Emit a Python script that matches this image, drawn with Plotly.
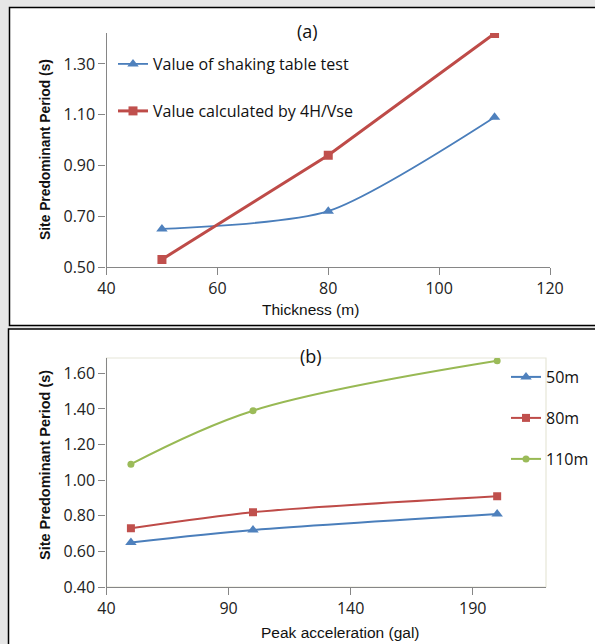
import plotly.graph_objects as go

# ---------------- data ----------------
thickness = [50, 80, 110]
shaking_table = [0.65, 0.72, 1.09]
calc_4h_vse = [0.53, 0.94, 1.42]

peak_acc = [50, 100, 200]
p50m = [0.65, 0.72, 0.81]
p80m = [0.73, 0.82, 0.91]
p110m = [1.09, 1.39, 1.67]

a_xticks = [40, 60, 80, 100, 120]
a_yticks = [0.50, 0.70, 0.90, 1.10, 1.30]
b_xticks = [40, 90, 140, 190]
b_yticks = [0.40, 0.60, 0.80, 1.00, 1.20, 1.40, 1.60]

# ---------------- layout helpers ----------------
W, H = 595, 644
def px(x):
    return x / W
def py(y):
    return 1 - y / H

BLUE, BLUE_M = "#4A7EBB", "#4F81BD"
RED, RED_M = "#BE4B48", "#C0504D"
GREEN, GREEN_M = "#98B954", "#9BBB59"
AX = "#868686"
TICKFONT = dict(family="Open Sans", size=16, color="#222222")
LEGFONT = dict(family="Open Sans", size=16, color="#111111")

fig = go.Figure()

# panel (a)
fig.add_trace(go.Scatter(x=thickness, y=shaking_table, name="Value of shaking table test",
                         mode="lines+markers",
                         line=dict(color=BLUE, width=1.8, shape="spline", smoothing=0.7),
                         marker=dict(symbol="triangle-up", size=10, color=BLUE_M),
                         xaxis="x", yaxis="y", legend="legend"))
fig.add_trace(go.Scatter(x=thickness, y=calc_4h_vse, name="Value calculated by 4H/Vse",
                         mode="lines+markers", line=dict(color=RED, width=3),
                         marker=dict(symbol="square", size=9, color=RED_M),
                         xaxis="x", yaxis="y", legend="legend2"))

# panel (b)
fig.add_trace(go.Scatter(x=peak_acc, y=p50m, name="50m", mode="lines+markers",
                         line=dict(color=BLUE, width=2, shape="spline", smoothing=0.8),
                         marker=dict(symbol="triangle-up", size=10, color=BLUE_M),
                         xaxis="x2", yaxis="y2", legend="legend3"))
fig.add_trace(go.Scatter(x=peak_acc, y=p80m, name="80m", mode="lines+markers",
                         line=dict(color=RED, width=2, shape="spline", smoothing=0.8),
                         marker=dict(symbol="square", size=8, color=RED_M),
                         xaxis="x2", yaxis="y2", legend="legend4"))
fig.add_trace(go.Scatter(x=peak_acc, y=p110m, name="110m", mode="lines+markers",
                         line=dict(color=GREEN, width=2, shape="spline", smoothing=1),
                         marker=dict(symbol="circle", size=7, color=GREEN_M),
                         xaxis="x2", yaxis="y2", legend="legend5"))

axis_common = dict(showgrid=False, zeroline=False, showline=True, linecolor=AX, linewidth=1.3,
                   ticks="outside", tickcolor=AX, ticklen=7, tickwidth=1.2, tickfont=TICKFONT,
                   automargin=False)

def leg(x, y):
    return dict(x=px(x), y=py(y), xanchor="left", yanchor="middle", font=LEGFONT,
                bgcolor="rgba(0,0,0,0)", borderwidth=0, itemwidth=30)

fig.update_layout(
    width=W, height=H, margin=dict(l=0, r=0, t=0, b=0, pad=0, autoexpand=False),
    paper_bgcolor="#E6E6E6", plot_bgcolor="rgba(0,0,0,0)",
    showlegend=True,
    xaxis=dict(domain=[px(106.5), px(550)], range=[40, 120], tickvals=a_xticks,
               anchor="y", **axis_common),
    yaxis=dict(domain=[py(267), py(33)], range=[0.5, 1.422], tickvals=a_yticks,
               tickformat=".2f", anchor="x", **axis_common),
    xaxis2=dict(domain=[px(106.5), px(546)], range=[40, 220], tickvals=b_xticks,
                anchor="y2", **axis_common),
    yaxis2=dict(domain=[py(587), py(358)], range=[0.4, 1.686], tickvals=b_yticks,
                tickformat=".2f", anchor="x2", **axis_common),
    legend=leg(113, 64),
    legend2=leg(113, 111),
    legend3=leg(506, 377),
    legend4=leg(506, 418),
    legend5=leg(506, 459),
)

# panel frames (extend past the right edge)
fig.add_shape(type="rect", xref="paper", yref="paper", x0=px(9.5), x1=px(660), y0=py(325.5), y1=py(7.5),
              line=dict(color="black", width=1.5), fillcolor="white", layer="below")
fig.add_shape(type="rect", xref="paper", yref="paper", x0=px(8.5), x1=px(660), y0=py(700), y1=py(329),
              line=dict(color="black", width=1.5), fillcolor="white", layer="below")
# faint plot-area border for (b)
fig.add_shape(type="rect", xref="x2 domain", yref="y2 domain", x0=0, x1=1, y0=0, y1=1,
              line=dict(color="#E6E6D8", width=1.2), layer="below")

ann = []
ann.append(dict(text="(a)", x=px(307), y=py(31), font=dict(family="Open Sans", size=18, color="#111")))
ann.append(dict(text="(b)", x=px(311), y=py(356), font=dict(family="Open Sans", size=18, color="#111")))
ann.append(dict(text="Thickness (m)", x=px(310.5), y=py(309),
                font=dict(family="Liberation Sans", size=15.5, color="#111")))
ann.append(dict(text="Peak acceleration (gal)", x=px(340), y=py(632),
                font=dict(family="Liberation Sans", size=15.5, color="#111")))
ann.append(dict(text="<b>Site Predominant Period (s)</b>", x=px(45), y=py(150), textangle=-90,
                font=dict(family="Liberation Sans", size=13.8, color="#111")))
ann.append(dict(text="<b>Site Predominant Period (s)</b>", x=px(45), y=py(465), textangle=-90,
                font=dict(family="Liberation Sans", size=14.5, color="#111")))
for a in ann:
    fig.add_annotation(xref="paper", yref="paper", showarrow=False, xanchor="center", yanchor="middle", **a)

fig.write_html("out.html", config={"displayModeBar": False},
               post_script="document.body.style.margin='0px';document.body.style.background='#E6E6E6';")
